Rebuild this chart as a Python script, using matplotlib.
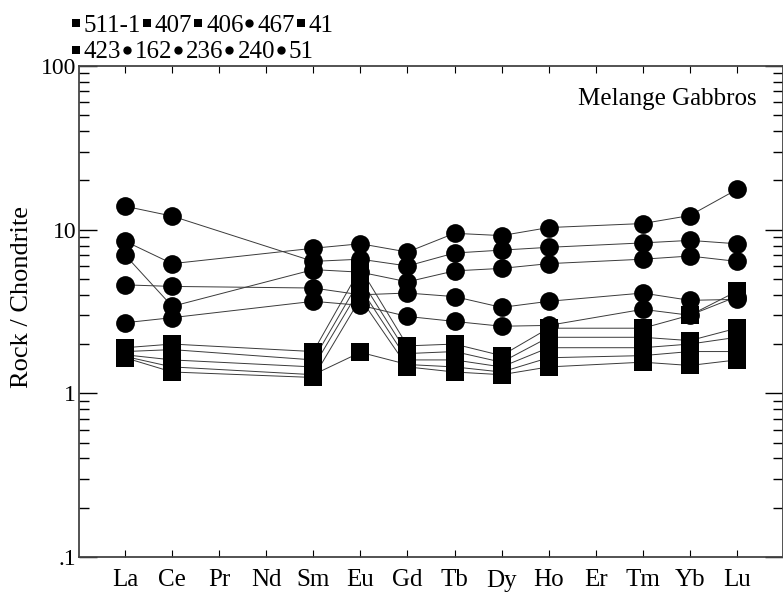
import numpy as np
import matplotlib.pyplot as plt
from matplotlib.lines import Line2D
from matplotlib.ticker import FixedLocator, LogLocator, NullFormatter

plt.rcParams['font.family'] = ['Liberation Serif', 'DejaVu Serif']

# REE order along the x axis; Pr, Nd and Er were not measured
elements = ['La', 'Ce', 'Pr', 'Nd', 'Sm', 'Eu', 'Gd', 'Tb', 'Dy', 'Ho', 'Er', 'Tm', 'Yb', 'Lu']
measured = ['La', 'Ce', 'Sm', 'Eu', 'Gd', 'Tb', 'Dy', 'Ho', 'Tm', 'Yb', 'Lu']

# chondrite-normalised values
s_511_1 = [1.90, 2.00, 1.80, 5.80, 1.95, 2.00, 1.70, 2.50, 2.50, 3.00, 4.20]
s_407 = [1.80, 1.85, 1.60, 5.00, 1.75, 1.80, 1.55, 2.20, 2.20, 2.10, 2.50]
s_406 = [1.72, 1.60, 1.45, 4.40, 1.60, 1.60, 1.45, 1.90, 1.90, 2.00, 2.20]
s_467 = [13.9, 12.1, 6.40, 6.60, 6.00, 7.20, 7.50, 7.80, 8.30, 8.60, 8.20]
s_41 = [1.68, 1.45, 1.30, 1.78, 1.50, 1.45, 1.35, 1.65, 1.70, 1.80, 1.80]
s_423 = [1.65, 1.35, 1.25, 3.80, 1.45, 1.35, 1.30, 1.45, 1.55, 1.48, 1.60]
s_162 = [8.50, 6.20, 7.70, 8.20, 7.30, 9.50, 9.20, 10.3, 10.9, 12.2, 17.6]
s_236 = [7.00, 3.40, 5.70, 5.50, 4.80, 5.60, 5.80, 6.20, 6.60, 6.90, 6.40]
s_240 = [4.60, 4.50, 4.40, 4.00, 4.10, 3.90, 3.35, 3.65, 4.10, 3.70, 3.75]
s_51 = [2.70, 2.90, 3.65, 3.45, 2.95, 2.75, 2.57, 2.60, 3.26, 3.00, 3.90]

samples = {
    '511-1': (s_511_1, 's'),
    '407': (s_407, 's'),
    '406': (s_406, 's'),
    '467': (s_467, 'o'),
    '41': (s_41, 's'),
    '423': (s_423, 's'),
    '162': (s_162, 'o'),
    '236': (s_236, 'o'),
    '240': (s_240, 'o'),
    '51': (s_51, 'o'),
}

xpos = [elements.index(e) for e in measured]

fig = plt.figure(figsize=(7.83, 5.99), dpi=100)
ax = fig.add_axes([79 / 783, 42 / 599, 704 / 783, 491 / 599])

for name, (vals, mk) in samples.items():
    ax.plot(xpos, vals, color='#3a3a3a', lw=0.7, zorder=2)
for name, (vals, mk) in samples.items():
    ms = 13.5 if mk == 'o' else 12.5
    ax.plot(xpos, vals, ls='none', marker=mk, ms=ms, color='black',
            markeredgewidth=0, zorder=3)

ax.set_yscale('log')
ax.set_ylim(0.1, 100)
ax.set_xlim(-0.98, 13.98)
ax.set_xticks(range(len(elements)))
ax.set_xticklabels(elements, fontsize=18)
ax.yaxis.set_major_locator(FixedLocator([0.1, 1, 10, 100]))
ax.set_yticklabels(['.1', '1', '10', '100'], fontsize=17)
ax.yaxis.set_minor_locator(LogLocator(base=10, subs=np.arange(2, 10)))
ax.yaxis.set_minor_formatter(NullFormatter())
ax.tick_params(axis='y', which='major', direction='in', length=13, width=1,
               left=True, right=True, pad=2)
ax.tick_params(axis='y', which='minor', direction='in', length=7, width=1,
               left=True, right=True)
ax.tick_params(axis='x', direction='in', length=5, width=0.8,
               top=True, bottom=True, pad=9)
for sp in ax.spines.values():
    sp.set_linewidth(1.3)
    sp.set_color('#444444')

ax.set_ylabel('Rock / Chondrite', fontsize=19)
ax.yaxis.set_label_coords(-0.066, 0.53)
ax.text(0.963, 0.933, 'Melange Gabbros', transform=ax.transAxes,
        ha='right', va='center', fontsize=18)

# two-row legend written out like the original, flowing left to right
names = list(samples.keys())
def handle(name):
    mk = samples[name][1]
    return Line2D([], [], ls='none', marker=mk, color='black',
                  ms=5.5 if mk == 's' else 6, markeredgewidth=0)

leg_kw = dict(loc='upper left', ncol=5, frameon=False, fontsize=18,
              handlelength=0.45, handletextpad=0.1, columnspacing=0.0,
              borderpad=0, borderaxespad=0)
row1 = names[:5]
row2 = names[5:]
leg1 = fig.legend([handle(n) for n in row1], row1,
                  bbox_to_anchor=(70 / 783, 1 - 14 / 599), **leg_kw)
leg2 = fig.legend([handle(n) for n in row2], row2,
                  bbox_to_anchor=(70 / 783, 1 - 41 / 599), **leg_kw)

fig.savefig('out.png', dpi=100)
